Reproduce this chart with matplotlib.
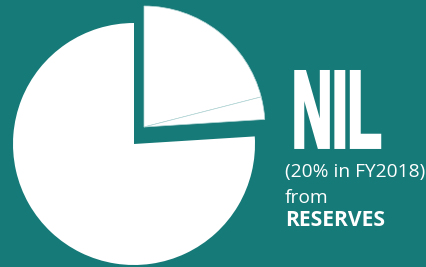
import matplotlib
matplotlib.use("Agg")
import matplotlib.pyplot as plt
from matplotlib import patheffects
from matplotlib.transforms import Affine2D

# ---- data ----
shares = [21, 3, 76]          # exploded slice, thin slice, remaining part
exploded = [True, True, False]
big_text = "NIL"
sub_lines = ["(20% in FY2018)", "from", "RESERVES"]

BG = "#167a78"

W, H = 426, 267
fig = plt.figure(figsize=(W / 100, H / 100), dpi=100, facecolor=BG)
ax = fig.add_axes([0, 0, 1, 1])
ax.set_facecolor(BG)

center_main = (134, H - 144)
center_expl = (144, H - 127)
R = 121

main_colors = ["none" if e else "white" for e in exploded]
expl_colors = ["white" if e else "none" for e in exploded]

w1, _ = ax.pie(shares, startangle=90, counterclock=False, colors=main_colors,
               center=center_main, radius=R, frame=True,
               wedgeprops=dict(linewidth=0))
w2, _ = ax.pie(shares, startangle=90, counterclock=False, colors=expl_colors,
               center=center_expl, radius=R, frame=True,
               wedgeprops=dict(linewidth=0.5, edgecolor="#b5d6d6"))
for w, e in zip(w2, exploded):
    if not e:
        w.set_linewidth(0)
        w.set_edgecolor("none")

ax.set_xlim(0, W)
ax.set_ylim(0, H)
ax.set_aspect("equal")
ax.axis("off")


class ScaleY(patheffects.AbstractPathEffect):
    """Stretch glyphs vertically (from the baseline) and thicken them."""
    def __init__(self, sy, lw=0.0):
        super().__init__()
        self.sy = sy
        self.lw = lw

    def draw_path(self, renderer, gc, tpath, affine, rgbFace=None):
        trans = Affine2D().scale(1.0, self.sy) + affine
        gc0 = renderer.new_gc()
        gc0.copy_properties(gc)
        gc0.set_joinstyle("miter")
        if self.lw > 0:
            gc0.set_linewidth(self.lw)
            gc0.set_foreground(rgbFace)
        renderer.draw_path(gc0, tpath, trans, rgbFace)
        gc0.restore()


fig.text(292 / W, (H - 147.5) / H, big_text, color="white", fontsize=40,
         family="Liberation Sans", fontweight="bold", ha="left", va="baseline",
         path_effects=[ScaleY(1.99, lw=2.1)])

fig.text(285 / W, (H - 177) / H, sub_lines[0], color="white", fontsize=13.8,
         family="Open Sans", ha="left", va="baseline")
fig.text(285 / W, (H - 203) / H, sub_lines[1], color="white", fontsize=13.8,
         family="Open Sans", ha="left", va="baseline")
fig.text(285 / W, (H - 226) / H, sub_lines[2], color="white", fontsize=15.2,
         family="Open Sans", fontweight="bold", ha="left", va="baseline")

fig.savefig("out.png", dpi=100, facecolor=BG)
